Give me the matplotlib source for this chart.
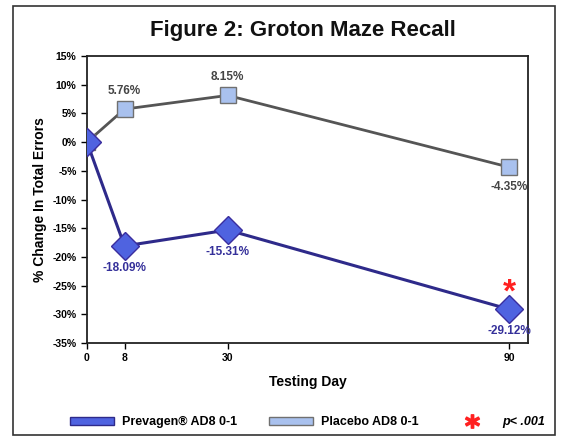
import matplotlib.pyplot as plt
from matplotlib.patches import Patch, Rectangle
from matplotlib.lines import Line2D
from matplotlib.ticker import FuncFormatter

# data
days = [0, 8, 30, 90]
prevagen = [0.0, -18.09, -15.31, -29.12]
placebo = [0.0, 5.76, 8.15, -4.35]
prevagen_labels = ['', '-18.09%', '-15.31%', '-29.12%']
placebo_labels = ['', '5.76%', '8.15%', '-4.35%']
y_ticks = [15, 10, 5, 0, -5, -10, -15, -20, -25, -30, -35]

plt.rcParams['font.family'] = ['Liberation Sans Narrow', 'Liberation Sans', 'DejaVu Sans']
plt.rcParams['font.weight'] = 'bold'
plt.rcParams['axes.labelweight'] = 'bold'

fig = plt.figure(figsize=(5.7, 4.4), dpi=100)
fig.patch.set_facecolor('white')
# outer frame around the whole figure
fig.add_artist(Rectangle((0.022, 0.012), 0.952, 0.975, transform=fig.transFigure,
                         fill=False, edgecolor='#333333', linewidth=1.2))

ax = fig.add_axes([0.1526, 0.2205, 0.7734, 0.652])

purple = '#2e2a8a'
diamond_fill = '#4f63e0'
square_fill = '#a9c1ee'

ax.plot(days, placebo, color='#555555', linewidth=2, marker='s', markersize=11,
        markerfacecolor=square_fill, markeredgecolor='#707070', markeredgewidth=1, zorder=3)
ax.plot(days, prevagen, color=purple, linewidth=2.2, marker='D', markersize=14,
        markerfacecolor=diamond_fill, markeredgecolor='#3a2d9e', markeredgewidth=1, zorder=4)

for x, y, s in zip(days, placebo, placebo_labels):
    if not s:
        continue
    off = 13 if y > 0 else -14
    ax.annotate(s, (x, y), xytext=(0, off), textcoords='offset points',
                ha='center', va='center', fontsize=8.5, color='#444444')
for x, y, s in zip(days, prevagen, prevagen_labels):
    if not s:
        continue
    ax.annotate(s, (x, y), xytext=(0, -16), textcoords='offset points',
                ha='center', va='center', fontsize=8.5, color='#35309a')

# significance marker at day 90
ax.annotate('*', (days[-1], prevagen[-1]), xytext=(0, 12), textcoords='offset points',
            ha='center', va='center', fontsize=24, color='#ff2020', fontweight='bold')

ax.set_xlim(0, 94)
ax.set_ylim(-35, 15)
ax.set_xticks(days)
ax.set_yticks(y_ticks)
ax.yaxis.set_major_formatter(FuncFormatter(lambda v, p: '%d%%' % v))
ax.tick_params(axis='both', labelsize=7.5, length=4, width=1, direction='out')
for sp in ax.spines.values():
    sp.set_linewidth(1.3)
    sp.set_color('#222222')

ax.set_xlabel('Testing Day', fontsize=10, labelpad=8)
ax.set_ylabel('% Change In Total Errors', fontsize=10, labelpad=4)

fig.text(0.532, 0.93, 'Figure 2: Groton Maze Recall', ha='center', va='center',
         fontsize=16, color='#111111')

handles = [
    Patch(facecolor=diamond_fill, edgecolor=purple, linewidth=1),
    Patch(facecolor=square_fill, edgecolor='#707070', linewidth=1),
    Line2D([], [], linestyle='none', marker='$*$', markersize=10, color='#ff2020'),
]
labels = ['Prevagen® AD8 0-1', 'Placebo AD8 0-1', 'p< .001']
leg = fig.legend(handles, labels, loc='center', bbox_to_anchor=(0.54, 0.04), ncol=3,
                 frameon=False, fontsize=9, handlelength=3.5, handleheight=0.5,
                 columnspacing=2.5, handletextpad=0.7)
leg.get_texts()[2].set_style('italic')

plt.savefig('out.png', dpi=100)
